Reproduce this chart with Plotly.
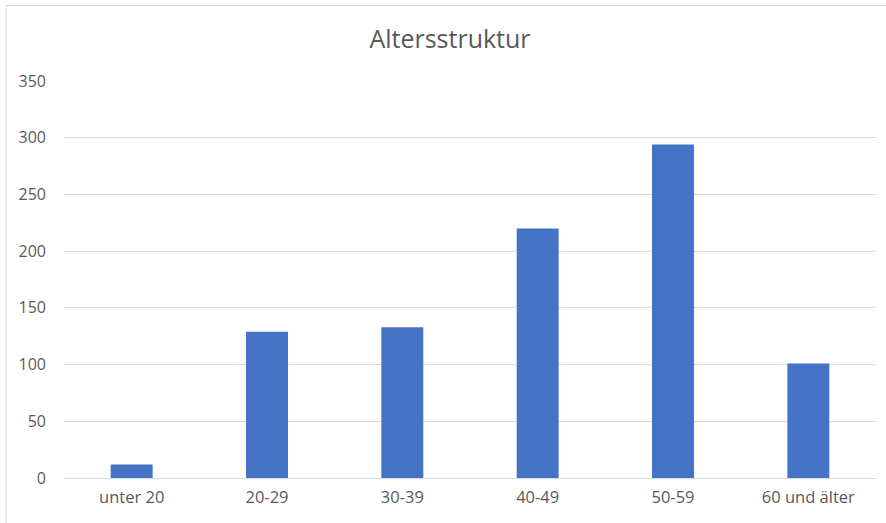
import plotly.graph_objects as go

categories = ["unter 20", "20-29", "30-39", "40-49", "50-59", "60 und älter"]
values = [12, 129, 133, 220, 294, 101]
y_ticks = [0, 50, 100, 150, 200, 250, 300, 350]

W, H = 886, 523
L, R, T, B = 63.5, 9.5, 81, 44.7
pw = W - L - R
ph = H - T - B

fig = go.Figure(go.Bar(x=categories, y=values, marker=dict(color="#4472C4", line=dict(width=0)),
                       hoverinfo="x+y"))

def px_x(p):
    return (p - L) / pw

def px_y(p):
    return (H - B - p) / ph

fig.add_shape(type="line", xref="paper", yref="paper",
              x0=px_x(5.5), x1=px_x(890), y0=px_y(5.5), y1=px_y(5.5),
              line=dict(color="#d9d9d9", width=1))
fig.add_shape(type="line", xref="paper", yref="paper",
              x0=px_x(5.5), x1=px_x(5.5), y0=px_y(5.5), y1=px_y(530),
              line=dict(color="#d9d9d9", width=1))

fig.update_layout(
    width=W, height=H,
    margin=dict(l=L, r=R, t=T, b=B),
    paper_bgcolor="white", plot_bgcolor="white",
    font=dict(family="Open Sans", color="#595959", size=16),
    title=dict(text="Altersstruktur", x=450 / W, xref="container", xanchor="center",
               y=1 - 39 / H, yanchor="middle",
               font=dict(size=25, color="#595959", family="Open Sans")),
    bargap=0.69,
    showlegend=False,
    xaxis=dict(showgrid=False, showline=False, ticks="", tickfont=dict(size=16.5),
               ticklabelstandoff=7),
    yaxis=dict(range=[0, 350], tickvals=y_ticks, showgrid=True, gridcolor="#d9d9d9",
               gridwidth=1, zeroline=True, zerolinecolor="#d9d9d9", zerolinewidth=1,
               showline=False, ticks="", tickfont=dict(size=16), ticklabelstandoff=17),
)

fig.write_html("out.html")
